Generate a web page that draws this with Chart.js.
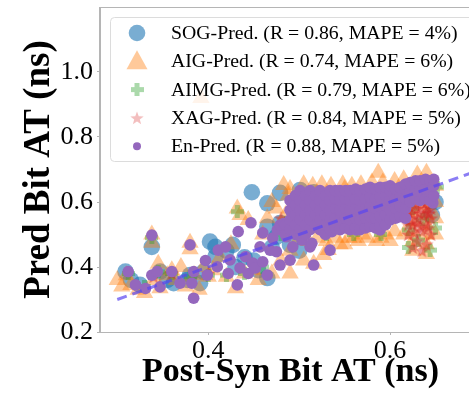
<!DOCTYPE html>
<html>
<head>
<meta charset="utf-8">
<script src="https://cdn.jsdelivr.net/npm/chart.js@4.4.1/dist/chart.umd.min.js"></script>
<style>
  html, body { margin: 0; padding: 0; background: #fff; overflow: hidden; }
  #wrap { width: 485px; height: 395px; position: relative; }
</style>
</head>
<body>
<div id="wrap"><canvas id="chart"></canvas></div>
<script>
const seriesNames = [
  'SOG-Pred. (R = 0.86, MAPE = 4%)',
  'AIG-Pred. (R = 0.74, MAPE = 6%)',
  'AIMG-Pred. (R = 0.79, MAPE = 6%)',
  'XAG-Pred. (R = 0.84, MAPE = 5%)',
  'En-Pred. (R = 0.88, MAPE = 5%)'
];
const xTicks = [0.4, 0.6];
const yTicks = [0.2, 0.4, 0.6, 0.8, 1.0];
const fitLine = [[0.3, 0.3], [0.7, 0.7]];

const sogPoints = [
  [0.309,0.386],[0.315,0.36],[0.325,0.345],[0.338,0.462],[0.347,0.386],[0.355,0.36],[0.362,0.35],
  [0.377,0.36],[0.38,0.375],[0.391,0.35],[0.395,0.385],[0.402,0.478],[0.408,0.462],[0.408,0.432],
  [0.42,0.45],[0.427,0.468],[0.43,0.40],[0.44,0.43],[0.448,0.63],[0.45,0.42],[0.455,0.39],
  [0.465,0.596],[0.465,0.366],[0.465,0.524],[0.47,0.46],[0.475,0.493],[0.479,0.628],[0.479,0.535],
  [0.49,0.468],[0.50,0.45],[0.501,0.637],[0.50,0.52],[0.516,0.63],[0.52,0.55],[0.54,0.60],
  [0.56,0.58],[0.58,0.60],[0.60,0.62],[0.62,0.62],[0.64,0.64],[0.65,0.60],[0.646,0.56]
];
const aigPoints = [
  [0.30,0.36],[0.305,0.34],[0.31,0.375],[0.315,0.345],[0.323,0.33],[0.33,0.32],[0.338,0.50],
  [0.338,0.475],[0.34,0.36],[0.347,0.335],[0.345,0.41],[0.355,0.375],[0.36,0.39],[0.365,0.36],
  [0.37,0.40],[0.375,0.34],[0.38,0.475],[0.38,0.455],[0.385,0.375],[0.39,0.33],[0.395,0.40],
  [0.40,0.37],[0.405,0.39],[0.413,0.43],[0.42,0.37],[0.425,0.47],[0.43,0.335],[0.432,0.58],
  [0.435,0.56],[0.44,0.38],[0.444,0.545],[0.45,0.39],[0.455,0.36],[0.46,0.50],[0.465,0.55],
  [0.47,0.38],[0.47,0.60],[0.475,0.58],[0.48,0.42],[0.483,0.652],[0.485,0.56],[0.488,0.62],
  [0.49,0.45],[0.49,0.38],[0.495,0.60],[0.505,0.42],[0.51,0.60],[0.516,0.41],
  [0.527,0.437],[0.53,0.62],[0.532,0.452],[0.545,0.47],[0.55,0.64],
  [0.555,0.49],[0.565,0.48],[0.57,0.50],[0.587,0.69],[0.59,0.49],
  [0.60,0.48],[0.615,0.50],[0.625,0.45],[0.625,0.48],
  [0.625,0.51],[0.625,0.54],[0.625,0.57],[0.64,0.44],[0.64,0.47],[0.64,0.50],[0.64,0.53],
  [0.64,0.56],[0.64,0.59],[0.64,0.62],[0.65,0.50],[0.65,0.55],[0.65,0.60],[0.65,0.65],
  [0.49,0.64],[0.505,0.655],[0.515,0.65],[0.525,0.655],[0.535,0.65],[0.548,0.655],[0.558,0.65],
  [0.568,0.655],[0.58,0.66],[0.592,0.66],[0.605,0.665],[0.615,0.67],[0.63,0.685],[0.64,0.69],
  [0.50,0.49],[0.51,0.48],[0.52,0.49],[0.53,0.48],[0.54,0.49],[0.55,0.47],[0.56,0.49],
  [0.575,0.49],[0.585,0.48],[0.595,0.50],[0.605,0.51],[0.51,0.52],[0.53,0.55],[0.55,0.58],
  [0.57,0.56],[0.59,0.59],[0.61,0.62],[0.52,0.61],
  [0.392,0.92]
];
const aimgPoints = [
  [0.312,0.38],[0.33,0.34],[0.345,0.385],[0.36,0.38],[0.38,0.37],[0.40,0.375],[0.42,0.375],
  [0.44,0.38],[0.46,0.40],[0.48,0.50],[0.49,0.55],[0.50,0.60],[0.52,0.58],[0.53,0.50],
  [0.54,0.62],[0.56,0.50],[0.57,0.60],[0.59,0.50],[0.60,0.63],[0.62,0.514],[0.631,0.483],
  [0.644,0.452],[0.636,0.545],[0.652,0.646],[0.625,0.58],[0.645,0.60],[0.62,0.46],[0.65,0.52],
  [0.338,0.49],[0.432,0.57]
];
const xagPoints = [
  [0.34,0.37],[0.36,0.38],[0.40,0.38],[0.45,0.40],[0.48,0.55],[0.50,0.60],[0.55,0.62],[0.58,0.63],
  [0.62,0.62],[0.625,0.60],[0.63,0.58],[0.635,0.60],[0.64,0.57],[0.645,0.55],[0.63,0.55],
  [0.62,0.57],[0.625,0.53],[0.64,0.53],[0.635,0.51],[0.62,0.50],[0.63,0.48],[0.64,0.47],
  [0.625,0.46],[0.635,0.45],[0.645,0.50],[0.615,0.58],[0.64,0.60],[0.632,0.565],[0.622,0.545],
  [0.642,0.52],[0.628,0.59],[0.638,0.58],[0.618,0.56],[0.633,0.525],[0.627,0.505],[0.645,0.58],
  [0.62,0.59],[0.63,0.61],[0.637,0.555],[0.624,0.565],[0.643,0.565],[0.63,0.535],[0.62,0.53]
];
const enPoints = [
  [0.312,0.386],[0.32,0.345],[0.331,0.334],[0.338,0.375],[0.344,0.386],[0.347,0.339],[0.338,0.498],
  [0.36,0.386],[0.369,0.35],[0.38,0.468],[0.384,0.386],[0.384,0.304],[0.382,0.35],[0.397,0.42],
  [0.399,0.375],[0.41,0.401],[0.411,0.452],[0.419,0.462],[0.422,0.38],[0.424,0.422],[0.432,0.345],
  [0.433,0.509],[0.435,0.397],[0.441,0.432],[0.444,0.38],[0.447,0.536],[0.449,0.412],[0.452,0.397],
  [0.457,0.462],[0.46,0.416],[0.46,0.505],[0.465,0.375],[0.468,0.452],[0.471,0.489],[0.475,0.447],
  [0.476,0.514],[0.479,0.529],[0.479,0.406],[0.483,0.534],[0.486,0.493],[0.49,0.421],[0.493,0.462],
  [0.503,0.483],[0.512,0.462],[0.514,0.473],[0.516,0.406],[0.527,0.509],[0.534,0.452],[0.536,0.509],
  [0.563,0.514],[0.589,0.514],[0.647,0.597],
  [0.485,0.50],[0.485,0.53],
  [0.490,0.515],[0.490,0.545],[0.490,0.575],[0.490,0.605],
  [0.496,0.50],[0.496,0.53],[0.496,0.56],[0.496,0.59],[0.496,0.62],
  [0.501,0.515],[0.501,0.545],[0.501,0.575],[0.501,0.605],[0.501,0.635],
  [0.507,0.50],[0.507,0.53],[0.507,0.56],[0.507,0.59],[0.507,0.62],
  [0.512,0.515],[0.512,0.545],[0.512,0.575],[0.512,0.605],[0.512,0.635],
  [0.518,0.53],[0.518,0.56],[0.518,0.59],[0.518,0.62],
  [0.523,0.515],[0.523,0.545],[0.523,0.575],[0.523,0.605],[0.523,0.635],
  [0.529,0.50],[0.529,0.53],[0.529,0.56],[0.529,0.59],[0.529,0.62],
  [0.534,0.515],[0.534,0.545],[0.534,0.575],[0.534,0.605],[0.534,0.635],
  [0.540,0.52],[0.540,0.55],[0.540,0.58],[0.540,0.61],[0.540,0.635],
  [0.545,0.515],[0.545,0.545],[0.545,0.575],[0.545,0.605],[0.545,0.635],
  [0.551,0.52],[0.551,0.55],[0.551,0.58],[0.551,0.61],[0.551,0.635],
  [0.556,0.515],[0.556,0.545],[0.556,0.575],[0.556,0.605],[0.556,0.635],
  [0.562,0.52],[0.562,0.55],[0.562,0.58],[0.562,0.61],[0.562,0.64],
  [0.567,0.515],[0.567,0.545],[0.567,0.575],[0.567,0.605],[0.567,0.635],
  [0.573,0.52],[0.573,0.55],[0.573,0.58],[0.573,0.61],[0.573,0.64],
  [0.578,0.525],[0.578,0.555],[0.578,0.585],[0.578,0.615],[0.578,0.645],
  [0.584,0.52],[0.584,0.55],[0.584,0.58],[0.584,0.61],[0.584,0.64],
  [0.589,0.525],[0.589,0.555],[0.589,0.585],[0.589,0.615],[0.589,0.645],
  [0.595,0.53],[0.595,0.56],[0.595,0.59],[0.595,0.62],[0.595,0.645],
  [0.600,0.545],[0.600,0.575],[0.600,0.605],[0.600,0.635],[0.600,0.65],
  [0.606,0.55],[0.606,0.58],[0.606,0.61],[0.606,0.64],
  [0.611,0.555],[0.611,0.585],[0.611,0.615],[0.611,0.645],
  [0.617,0.55],[0.617,0.58],[0.617,0.61],[0.617,0.64],[0.617,0.655],
  [0.622,0.60],[0.622,0.63],[0.622,0.66],
  [0.628,0.61],[0.628,0.64],[0.628,0.665],
  [0.633,0.605],[0.633,0.635],[0.633,0.665],
  [0.639,0.61],[0.639,0.64],[0.639,0.67],
  [0.644,0.605],[0.644,0.635],[0.644,0.665],
  [0.648,0.62],[0.648,0.65],[0.648,0.67]
];

// marker images for the filled star and the thick plus
function makeStar(size, color) {
  const c = document.createElement('canvas');
  c.width = c.height = size;
  const g = c.getContext('2d');
  const r = size / 2, ri = r * 0.42;
  g.fillStyle = color;
  g.beginPath();
  for (let k = 0; k < 10; k++) {
    const a = -Math.PI / 2 + k * Math.PI / 5;
    const rr = k % 2 ? ri : r;
    g.lineTo(r + rr * Math.cos(a), r * 1.08 + rr * Math.sin(a));
  }
  g.closePath();
  g.fill();
  return c;
}
function makePlus(size, thick, color) {
  const c = document.createElement('canvas');
  c.width = c.height = size;
  const g = c.getContext('2d');
  g.fillStyle = color;
  const o = (size - thick) / 2;
  g.fillRect(o, 0, thick, size);
  g.fillRect(0, o, o, thick);
  g.fillRect(o + thick, o, o, thick);
  return c;
}

const colors = {
  sog: 'rgba(31,119,180,0.6)',
  aig: 'rgba(255,127,14,0.42)',
  aimg: 'rgba(44,160,44,0.4)',
  xag: 'rgba(214,39,40,0.3)',
  en: 'rgb(148,103,189)'
};
const starImg = makeStar(14, colors.xag);
const starPlot = makeStar(15, 'rgba(214,39,40,0.5)');
const plusImg = makePlus(13, 5, colors.aimg);

const toXY = pts => pts.map(([x, y]) => ({ x, y }));

const frame = {
  id: 'frame',
  afterDatasetsDraw(chart) {
    const { ctx, chartArea: a } = chart;
    ctx.save();
    ctx.strokeStyle = '#b5b5b5';
    ctx.lineWidth = 1;
    ctx.strokeRect(a.left - 0.5, a.top + 0.5, a.right - a.left, a.bottom - a.top);
    ctx.restore();
  }
};

const boxLegend = {
  id: 'boxLegend',
  afterDatasetsDraw(chart) {
    const ctx = chart.ctx;
    ctx.save();
    ctx.beginPath();
    ctx.roundRect(110.5, 17.5, 372, 144, 4);
    ctx.fillStyle = 'rgba(255,255,255,0.8)';
    ctx.fill();
    ctx.strokeStyle = '#dcdcdc';
    ctx.lineWidth = 1;
    ctx.stroke();
    const mx = 137;
    seriesNames.forEach((name, i) => {
      const y = 33 + i * 28.3;
      ctx.fillStyle = i === 3 ? colors.xag : chart.data.datasets[i].backgroundColor;
      if (i === 0) {
        ctx.beginPath(); ctx.arc(mx, y, 8.3, 0, Math.PI * 2); ctx.fill();
      } else if (i === 1) {
        ctx.beginPath();
        ctx.moveTo(mx, y - 11); ctx.lineTo(mx + 10.5, y + 8); ctx.lineTo(mx - 10.5, y + 8);
        ctx.closePath(); ctx.fill();
      } else if (i === 2) {
        ctx.drawImage(plusImg, mx - 6.5, y - 6.5);
      } else if (i === 3) {
        ctx.drawImage(starImg, mx - 7, y - 7);
      } else {
        ctx.beginPath(); ctx.arc(mx, y, 4, 0, Math.PI * 2); ctx.fill();
      }
      ctx.fillStyle = '#000';
      ctx.font = '19.8px "Liberation Serif"';
      ctx.textBaseline = 'middle';
      ctx.fillText(name, 171, y + 1);
    });
    ctx.restore();
  }
};

const ctx = document.getElementById('chart').getContext('2d');
new Chart(ctx, {
  type: 'scatter',
  data: {
    datasets: [
      { label: seriesNames[0], data: toXY(sogPoints), backgroundColor: colors.sog, pointStyle: 'circle', pointRadius: 8.3, borderWidth: 0, order: 5 },
      { label: seriesNames[1], data: toXY(aigPoints), backgroundColor: colors.aig, pointStyle: 'triangle', pointRadius: 10, borderWidth: 0, order: 4 },
      { label: seriesNames[2], data: toXY(aimgPoints), backgroundColor: colors.aimg, pointStyle: plusImg, borderWidth: 0, order: 3 },
      { label: seriesNames[3], data: toXY(xagPoints), backgroundColor: colors.xag, pointStyle: starPlot, borderWidth: 0, order: 2 },
      { label: seriesNames[4], data: toXY(enPoints), backgroundColor: colors.en, pointStyle: 'circle', pointRadius: 5.8, borderWidth: 0, order: 1 },
      { type: 'line', label: 'fit', data: toXY(fitLine), borderColor: 'rgba(90,70,240,0.7)', borderWidth: 3,
        borderDash: [10, 6], pointRadius: 0, fill: false, order: 0 }
    ]
  },
  options: {
    responsive: true,
    maintainAspectRatio: false,
    animation: false,
    events: [],
    layout: { padding: { left: 0, top: 7, right: 4, bottom: 0 }, autoPadding: false },
    plugins: { legend: { display: false }, tooltip: { enabled: false } },
    scales: {
      x: {
        type: 'linear', min: 0.281, max: 0.7,
        afterBuildTicks: s => { s.ticks = xTicks.map(v => ({ value: v })); },
        afterFit: s => { s.height = 63; s.paddingLeft = 0; s.paddingRight = 0; },
        ticks: { color: '#000', font: { family: 'Liberation Serif', size: 26 }, padding: 1, maxRotation: 0,
          callback: v => v.toFixed(1) },
        grid: { drawOnChartArea: false, drawTicks: true, tickLength: 3, color: '#b5b5b5' },
        border: { display: true, color: '#b5b5b5' },
        title: { display: true, text: 'Post-Syn Bit AT (ns)', color: '#000',
          font: { family: 'Liberation Serif', size: 34, weight: 'bold' }, padding: { top: 0, bottom: 2 } }
      },
      y: {
        type: 'linear', min: 0.2, max: 1.2,
        afterBuildTicks: s => { s.ticks = yTicks.map(v => ({ value: v })); },
        afterFit: s => { s.width = 100; s.paddingTop = 0; s.paddingBottom = 0; },
        ticks: { color: '#000', font: { family: 'Liberation Serif', size: 26 }, padding: 4,
          callback: v => v.toFixed(1) },
        grid: { drawOnChartArea: false, drawTicks: true, tickLength: 3, color: '#b5b5b5' },
        border: { display: true, color: '#b5b5b5' },
        title: { display: true, text: 'Pred Bit AT (ns)', color: '#000',
          font: { family: 'Liberation Serif', size: 37, weight: 'bold' }, padding: { top: 17, bottom: 0 } }
      }
    }
  },
  plugins: [frame, boxLegend]
});
</script>
</body>
</html>
